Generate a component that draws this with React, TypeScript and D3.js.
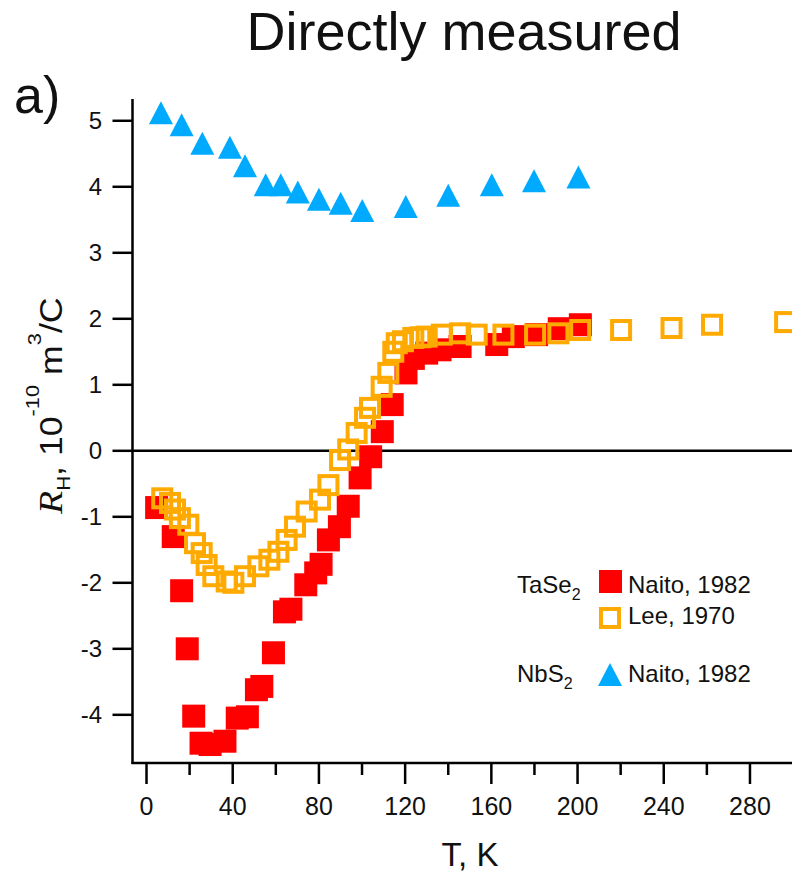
import React from "react"
import * as d3 from "d3"

// TaSe2, Naito 1982 (filled red squares)
const taSeNaitoT = [4.7, 12.4, 16.3, 18.9, 21.9, 25.3, 29.5, 36.4, 42.1, 46.8, 51, 53.5, 58.9, 64, 67, 73.9, 78.5, 81, 84.4, 89.5, 93.6, 99.1, 104, 109.4, 114, 120.4, 123.8, 130, 136.2, 145.5, 162.5, 170.2, 181, 191.5, 201.3]
const taSeNaitoR = [-0.86, -1.3, -2.12, -3.0, -4.02, -4.43, -4.45, -4.4, -4.05, -4.03, -3.62, -3.57, -3.06, -2.44, -2.4, -2.03, -1.85, -1.72, -1.35, -1.15, -0.84, -0.41, -0.09, 0.29, 0.7, 1.18, 1.4, 1.48, 1.53, 1.58, 1.61, 1.73, 1.76, 1.85, 1.91]

// TaSe2, Lee 1970 (open orange squares)
const taSeLeeT = [7.3, 10.9, 13.2, 15.5, 19.4, 22.5, 25.6, 27.9, 31, 37.2, 40.3, 45.7, 51.9, 57, 61.2, 65, 68.9, 74.3, 80.5, 84.4, 89.8, 93.6, 97.5, 101.4, 103.7, 109.1, 112.2, 114.5, 116.1, 119, 123.8, 127, 130, 137, 145.5, 153.2, 165.6, 180.3, 191.1, 201.2, 220.2, 243.6, 262.4, 296.3]
const taSeLeeR = [-0.72, -0.79, -0.89, -1.02, -1.12, -1.4, -1.55, -1.73, -1.9, -1.98, -2.0, -1.9, -1.75, -1.65, -1.53, -1.35, -1.15, -0.92, -0.74, -0.52, -0.14, 0.02, 0.27, 0.5, 0.65, 0.97, 1.18, 1.5, 1.63, 1.66, 1.71, 1.72, 1.73, 1.76, 1.78, 1.76, 1.76, 1.76, 1.78, 1.83, 1.83, 1.86, 1.91, 1.95]

// NbS2, Naito 1982 (blue triangles)
const nbSNaitoT = [6.7, 16.3, 25.9, 38.7, 45.7, 55.3, 62.3, 70.2, 80, 90.1, 100.1, 120.3, 140, 160.2, 179.8, 200.4]
const nbSNaitoR = [5.12, 4.94, 4.66, 4.6, 4.32, 4.03, 4.03, 3.92, 3.81, 3.75, 3.64, 3.7, 3.87, 4.03, 4.09, 4.15]

const xMajorTicks = [0, 40, 80, 120, 160, 200, 240, 280]
const xMinorTicks = [20, 60, 100, 140, 180, 220, 260]
const yTicks = [-4, -3, -2, -1, 0, 1, 2, 3, 4, 5]

const RED = "#ff0000"
const ORANGE = "#ffaa00"
const BLUE = "#00aaff"
const SANS = "'Liberation Sans', Arial, Helvetica, sans-serif"
const SERIF = "'Liberation Serif', 'Times New Roman', serif"

const W = 792
const H = 872

const x = d3.scaleLinear().domain([-6.5, 299.5]).range([132.5, 792])
const y = d3.scaleLinear().domain([-4.73, 5.33]).range([763, 99])

const tri = (cx: number, cy: number, w: number, h: number) =>
  `M${cx},${cy - h / 2}L${cx + w / 2},${cy + h / 2}L${cx - w / 2},${cy + h / 2}Z`

export default function App() {
  const x0 = x.range()[0]
  const yBottom = y.range()[0]
  const yTop = y.range()[1]

  return (
    <svg width={W} height={H} style={{ position: "absolute", left: 0, top: 0, background: "#fff" }} fontFamily={SANS}>
      {/* title and panel label */}
      <text x={464} y={50} fontSize={54} textAnchor="middle" fill="#111">Directly measured</text>
      <text x={14} y={113} fontSize={52} fill="#111">a)</text>

      {/* zero line */}
      <line x1={x0} x2={W} y1={y(0)} y2={y(0)} stroke="#000" strokeWidth={2.5} />

      {/* data: red first, orange on top, blue last */}
      <g>
        {taSeNaitoT.map((t, i) => (
          <rect key={"r" + i} x={x(t) - 11.5} y={y(taSeNaitoR[i]) - 11.5} width={23} height={23} fill={RED} />
        ))}
      </g>
      <g>
        {taSeLeeT.map((t, i) => (
          <rect key={"o" + i} x={x(t) - 9} y={y(taSeLeeR[i]) - 9} width={18} height={18} fill="none" stroke={ORANGE} strokeWidth={4} />
        ))}
      </g>
      <g>
        {nbSNaitoT.map((t, i) => (
          <path key={"b" + i} d={tri(x(t), y(nbSNaitoR[i]), 24, 23)} fill={BLUE} />
        ))}
      </g>

      {/* axes */}
      <line x1={x0} x2={x0} y1={yTop} y2={yBottom + 1} stroke="#000" strokeWidth={2.5} />
      <line x1={x0 - 1} x2={W} y1={yBottom} y2={yBottom} stroke="#000" strokeWidth={2.5} />

      {xMajorTicks.map(t => (
        <g key={"xt" + t}>
          <line x1={x(t)} x2={x(t)} y1={yBottom} y2={yBottom + 21} stroke="#000" strokeWidth={2.5} />
          <text x={x(t)} y={815} fontSize={25} textAnchor="middle" fill="#111">{t}</text>
        </g>
      ))}
      {xMinorTicks.map(t => (
        <line key={"xm" + t} x1={x(t)} x2={x(t)} y1={yBottom} y2={yBottom + 12} stroke="#000" strokeWidth={2.5} />
      ))}
      {yTicks.map(v => (
        <g key={"yt" + v}>
          <line x1={x0 - 20} x2={x0} y1={y(v)} y2={y(v)} stroke="#000" strokeWidth={2.5} />
          <text x={102} y={y(v)} dy="0.35em" fontSize={24} textAnchor="end" fill="#111">{v}</text>
        </g>
      ))}

      {/* axis titles */}
      <text x={470} y={866} fontSize={33} textAnchor="middle" fill="#111">T, K</text>
      <text transform="translate(62,514) rotate(-90) scale(1.15,1)" fontSize={31} fill="#111">
        <tspan fontFamily={SERIF} fontStyle="italic" fontSize={33}>R</tspan>
        <tspan fontSize={18} dy={8}>H</tspan>
        <tspan dy={-8}>, 10</tspan>
        <tspan fontSize={19} dy={-23}>-10</tspan>
        <tspan dy={23}> m</tspan>
        <tspan fontSize={19} dy={-21}>3</tspan>
        <tspan dy={21}>/C</tspan>
      </text>

      {/* legend */}
      <g fontSize={24} fill="#111">
        <text x={517} y={593}>TaSe<tspan fontSize={16} dy={7}>2</tspan></text>
        <rect x={599} y={570} width={23} height={23} fill={RED} />
        <text x={628} y={593}>Naito, 1982</text>
        <rect x={601} y={609} width={18} height={18} fill="none" stroke={ORANGE} strokeWidth={4} />
        <text x={628} y={624}>Lee, 1970</text>
        <text x={517} y={682}>NbS<tspan fontSize={16} dy={7}>2</tspan></text>
        <path d={tri(610, 674.5, 24, 23)} fill={BLUE} />
        <text x={628} y={682}>Naito, 1982</text>
      </g>
    </svg>
  )
}
